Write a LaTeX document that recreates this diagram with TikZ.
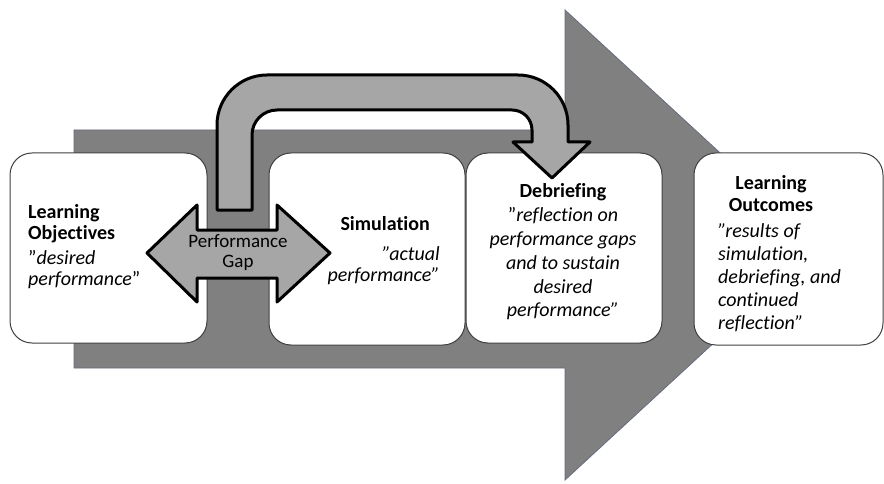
\documentclass[tikz,border=0pt]{standalone}
\usepackage{fontspec}
\setmainfont{Carlito}[Ligatures=NoCommon]
\usepackage{tikz}
\definecolor{bigarrow}{RGB}{128, 128, 128}
\definecolor{bigedge}{RGB}{100, 108, 125}
\definecolor{lightarrow}{RGB}{166, 166, 166}
\definecolor{cardedge}{RGB}{64, 64, 64}
\newcommand{\dq}{\char34\relax}

\begin{document}
\begin{tikzpicture}[
card/.style={rectangle, rounded corners=22pt, fill=white, draw=cardedge, line width=1pt, inner sep=0pt},
blockarrow/.style={fill=lightarrow, draw=black, line width=3pt, line join=round},
label/.style={inner sep=0pt, font=\fontsize{20}{21}\selectfont}]
\useasboundingbox (0pt, 0pt) rectangle (884pt, -484pt);
% big grey arrow behind the cards
\fill [bigarrow, draw=bigedge, line width=0.8pt] (74pt, -130pt) -- (565pt, -130pt) -- (565pt, -10pt) -- (820pt, -245pt) -- (565pt, -480pt) -- (565pt, -368pt) -- (74pt, -368pt) -- cycle;
\node (objbox) [card, minimum width=197pt, minimum height=190pt] at (108.5pt, -248pt) {};
\node (simbox) [card, minimum width=196pt, minimum height=192pt] at (367pt, -249pt) {};
\node (debbox) [card, minimum width=196pt, minimum height=190pt] at (564pt, -248pt) {};
\node (outbox) [card, minimum width=189pt, minimum height=192pt] at (788.5pt, -249pt) {};
\node (objtext) [label, anchor=west, align=left] at (28pt, -247pt) {\textbf{Learning}\\\textbf{Objectives}\\[4pt]\dq\textit{desired}\\\textit{performance}\dq};
\node (simtext) [label, anchor=east, align=right] at (440pt, -251pt) {\textbf{Simulation}\hspace*{10pt}\\[9pt]\textit{\dq actual}\\\textit{performance\dq}};
\node (debtext) [label, align=center, font=\fontsize{20}{23.8}\selectfont] at (563pt, -252pt) {\textbf{Debriefing}\\\dq\textit{reflection on}\\\textit{performance gaps}\\\textit{and to sustain}\\\textit{desired}\\\textit{performance\dq}};
\node (outtitle) [label, align=center, font=\fontsize{20}{22}\selectfont] at (771pt, -194pt) {\textbf{Learning}\\\textbf{Outcomes}};
\node (outtext) [label, anchor=west, align=left, font=\fontsize{20}{23}\selectfont] at (718pt, -278pt) {\textit{\dq results of}\\\textit{simulation,}\\\textit{debriefing, and}\\\textit{continued}\\\textit{reflection\dq}};
% performance gap double arrow
\draw [blockarrow] (147pt, -253pt) -- (197pt, -205pt) -- (197pt, -230pt) -- (277pt, -230pt) -- (277pt, -205pt) -- (330pt, -253pt) -- (277pt, -302pt) -- (277pt, -278pt) -- (197pt, -278pt) -- (197pt, -302pt) -- cycle;
\node (gap) [label, align=center, font=\fontsize{19}{20}\selectfont] at (238pt, -253pt) {Performance\\Gap};
% bent arrow into debriefing
\draw [blockarrow] (217pt, -210pt) -- (217pt, -125pt) arc[start angle=180, end angle=90, radius=50pt] -- (518pt, -75pt) arc[start angle=90, end angle=0, radius=50pt] -- (568pt, -142pt) -- (590pt, -142pt) -- (552pt, -178pt) -- (513pt, -142pt) -- (532pt, -142pt) -- (532pt, -130pt) arc[start angle=0, end angle=90, radius=20pt] -- (277pt, -110pt) arc[start angle=90, end angle=180, radius=25pt] -- (252pt, -210pt) -- cycle;
\end{tikzpicture}
\end{document}
